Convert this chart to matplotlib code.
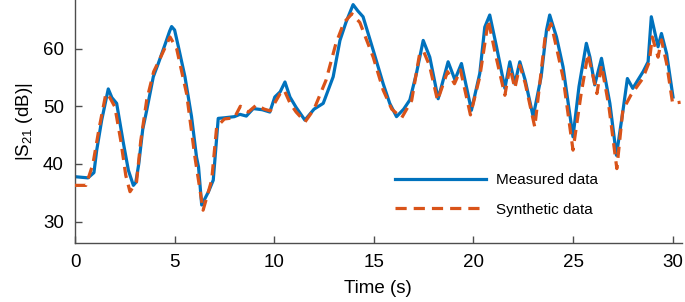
import matplotlib
matplotlib.use("Agg")
import matplotlib.pyplot as plt

plt.rcParams["font.family"] = ["Liberation Sans", "DejaVu Sans"]
plt.rcParams["mathtext.fontset"] = "custom"
plt.rcParams["mathtext.rm"] = "Liberation Sans"
plt.rcParams["mathtext.it"] = "Liberation Sans:italic"

# measured |S21| trace (time in s, level in dB)
t_meas = [0, 0.65, 0.95, 1.09, 1.34, 1.67, 1.85, 2.09, 2.43, 2.68, 2.93, 3.05,
          3.2, 3.4, 3.6, 3.93, 4.18, 4.52, 4.75, 4.85, 5.0, 5.19, 5.52, 5.85,
          6.1, 6.2, 6.36, 6.7, 6.94, 7.19, 7.5, 8.0, 8.28, 8.6, 8.95, 9.4,
          9.78, 10.03, 10.3, 10.54, 10.79, 11.1, 11.54, 12.0, 12.46, 12.96,
          13.3, 13.6, 13.96, 14.2, 14.46, 14.97, 15.47, 15.8, 16.14, 16.5,
          16.81, 17.14, 17.48, 17.81, 18.23, 18.73, 19.07, 19.4, 19.9, 20.32,
          20.57, 20.82, 21.16, 21.58, 21.83, 22.08, 22.33, 22.6, 23.0, 23.4,
          23.67, 23.83, 24.17, 24.5, 25.0, 25.3, 25.67, 25.85, 26.09, 26.43,
          26.85, 27.18, 27.51, 27.73, 28.0, 28.52, 28.77, 28.93, 29.27, 29.44,
          29.7, 30.02]
s21_meas = [37.8, 37.6, 38.5, 42.4, 47.6, 53.0, 51.5, 50.5, 43.6, 38.9, 36.3, 36.8,
            40.0, 46.0, 49.3, 55.1, 57.4, 60.7, 63.0, 63.8, 63.2, 60.3, 55.1, 48.2,
            41.2, 39.5, 32.9, 35.2, 37.2, 47.9, 48.0, 48.2, 48.6, 48.3, 49.6, 49.4,
            49.0, 51.6, 52.5, 54.2, 51.6, 49.8, 47.6, 49.5, 50.5, 55.1,
            61.4, 64.5, 67.6, 66.5, 65.5, 59.7, 53.9, 50.5, 48.2, 49.5,
            51.1, 55.7, 61.4, 58.5, 51.3, 57.7, 54.6, 57.4, 49.3, 55.7,
            63.7, 65.8, 60.3, 53.1, 57.7, 53.9, 57.7, 54.5, 48.2, 55.1,
            63.2, 65.8, 62.0, 56.8, 44.7, 53.4, 60.9, 58.5, 53.7, 58.3,
            50.5, 41.5, 49.3, 54.8, 53.1, 56.0, 57.7, 65.5, 60.3, 62.6,
            59.1, 51.6]

# synthetic trace
t_syn = [0, 0.55, 0.9, 1.2, 1.55, 1.75, 2.0, 2.3, 2.55, 2.76, 3.09, 3.3, 3.6,
         3.95, 4.3, 4.77, 5.1, 5.6, 6.02, 6.43, 6.86, 7.11, 7.5, 8.0, 8.3, 8.7,
         9.1, 9.5, 9.8, 10.3, 10.5, 10.8, 11.1, 11.55, 12.0, 12.6, 13.1, 13.5,
         13.9, 14.3, 14.97, 15.47, 15.9, 16.4, 16.9, 17.3, 17.5, 17.8, 18.2,
         18.7, 19.05, 19.35, 19.85, 20.32, 20.75, 21.1, 21.58, 21.83, 22.08,
         22.33, 22.6, 23.08, 23.6, 23.9, 24.2, 24.5, 25.0, 25.4, 25.75, 26.2,
         26.43, 26.8, 27.2, 27.5, 27.9, 28.5, 28.83, 28.98, 29.27, 29.44, 29.7,
         30.0, 30.4]
s21_syn = [36.3, 36.3, 40.0, 46.0, 52.2, 51.5, 49.9, 44.0, 38.0, 35.2, 36.9, 44.0, 51.1,
           56.0, 58.5, 62.0, 60.0, 52.2, 41.2, 32.0, 37.2, 46.4, 47.8, 48.0, 50.0, 49.0,
           50.2, 49.5, 49.2, 52.2, 52.8, 50.5, 49.0, 47.3, 49.5, 54.5, 60.9, 64.5,
           66.0, 64.5, 58.5, 52.8, 49.5, 48.0, 51.0, 59.1, 59.5, 57.0, 51.0,
           56.0, 53.9, 56.3, 48.5, 55.1, 64.9, 59.1, 51.9, 56.8, 53.1,
           57.1, 54.0, 46.4, 62.0, 64.3, 59.7, 55.0, 42.4, 52.0, 59.1, 52.2,
           57.1, 50.0, 39.2, 49.3, 51.9, 54.8, 57.7, 62.0, 58.5, 61.5, 57.4,
           50.5, 50.7]

blue = "#0072BD"
orange = "#D95319"
spine_col = "#4d4d4d"

fig = plt.figure(figsize=(6.85, 3.02), dpi=100)
ax = fig.add_axes([0.1095, 0.195, 0.8855, 0.805])

ax.plot(t_meas, s21_meas, color=blue, lw=2.3, label="Measured data", zorder=2)
ax.plot(t_syn, s21_syn, color=orange, lw=2.3, ls=(0, (3.5, 2.2)),
        label="Synthetic data", zorder=3)

ax.set_xlim(0, 30.45)
ax.set_ylim(26.3, 68.4)
ax.set_xticks([0, 5, 10, 15, 20, 25, 30])
ax.set_yticks([30, 40, 50, 60])

for side in ["top", "right"]:
    ax.spines[side].set_visible(False)
for side in ["left", "bottom"]:
    ax.spines[side].set_color(spine_col)
    ax.spines[side].set_linewidth(1.0)
ax.tick_params(direction="in", length=5, width=1.0, color=spine_col,
               labelsize=13.5, labelcolor="black", pad=8)

ax.set_xlabel("Time (s)", fontsize=13.5, labelpad=6)
ax.set_ylabel(r"$\left|\mathrm{S}_{21}\ \mathrm{(dB)}\right|$", fontsize=13.5, labelpad=6)

ax.legend(loc="center left", bbox_to_anchor=(0.527, 0.198), frameon=False,
          fontsize=11, handlelength=6.0, handletextpad=0.6, labelspacing=1.0,
          borderpad=0, borderaxespad=0)

fig.savefig("out.png", dpi=100)
